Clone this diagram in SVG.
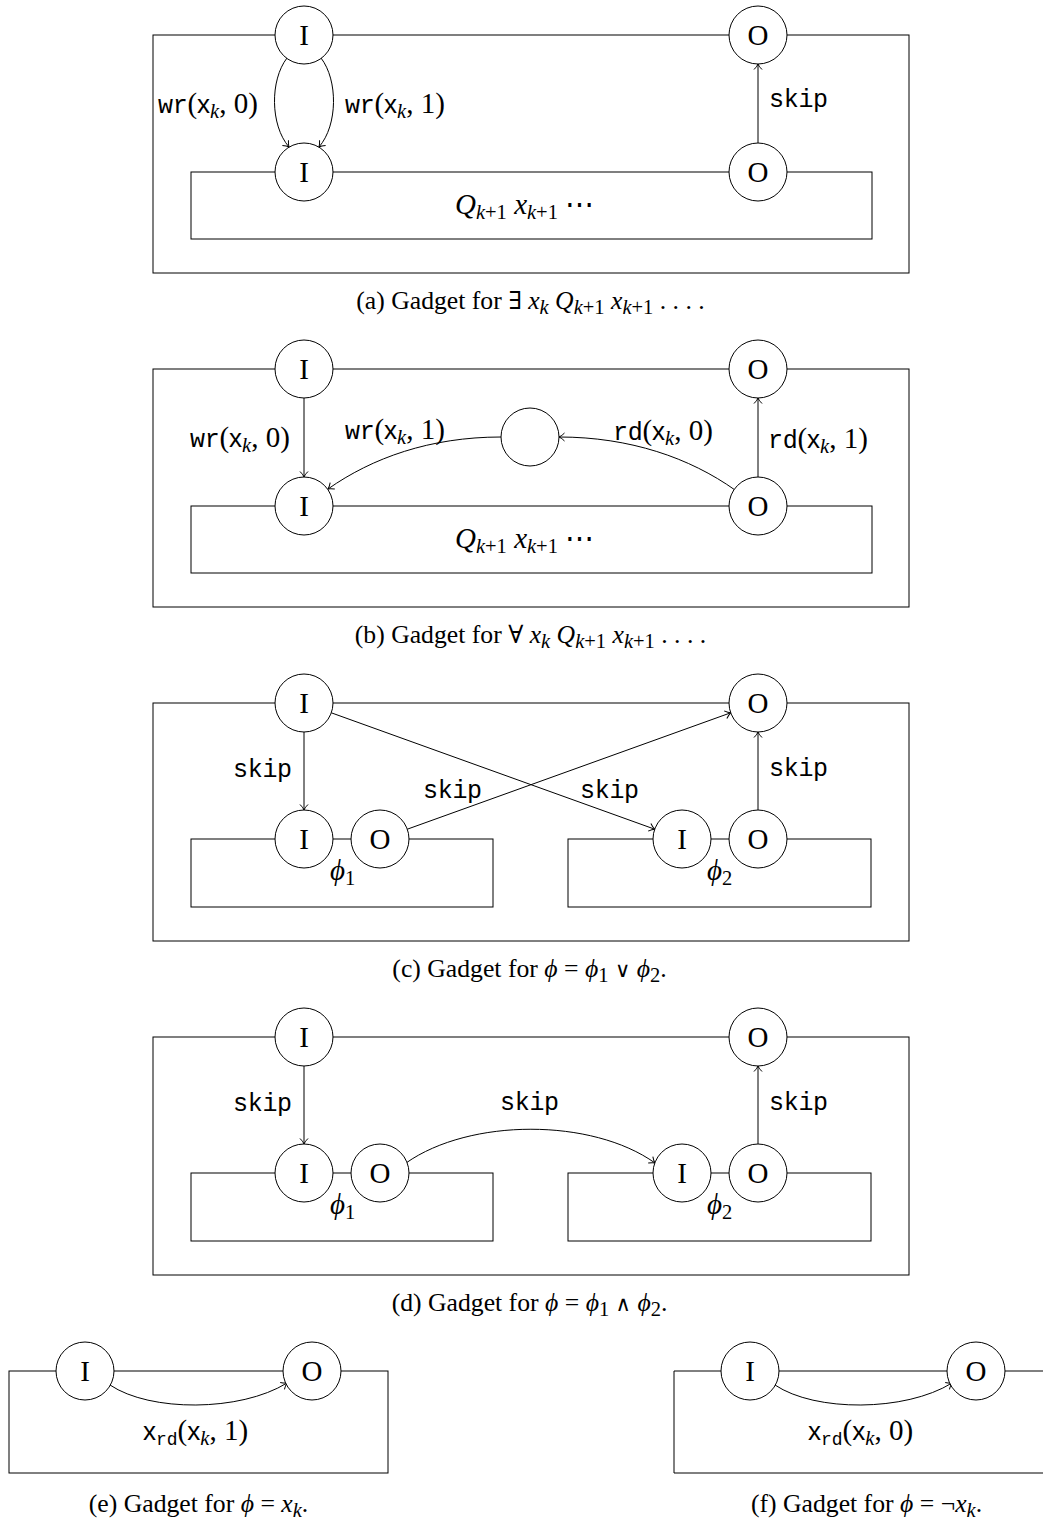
<svg xmlns="http://www.w3.org/2000/svg" width="1043" height="1521" viewBox="0 0 1043 1521">
<defs>
<style>
.box{fill:none;stroke:#000;stroke-width:1}
.nd{fill:#fff;stroke:#000;stroke-width:1}
.e{fill:none;stroke:#000;stroke-width:1;marker-end:url(#ah)}
text{font-family:"Liberation Serif","Times New Roman",serif;font-size:29px;fill:#000}
.c{text-anchor:middle}
.tt{font-family:"Liberation Mono","Courier New",monospace;font-size:25px;letter-spacing:-0.3px}
.sf{font-family:"Liberation Sans",Arial,sans-serif;font-size:26px}
.it{font-style:italic}
.sub{font-size:20.5px}
.stt{font-family:"Liberation Mono","Courier New",monospace;font-size:18px}
.cap{font-size:25.7px}
.sym{font-family:"DejaVu Serif",serif;font-size:21px}
.q{font-family:"DejaVu Serif",serif;font-size:25px}
</style>
<marker id="ah" markerUnits="userSpaceOnUse" markerWidth="14" markerHeight="14" viewBox="-7 -7 14 14" refX="0" refY="0" orient="auto">
<path d="M-5.5,-4 C-3,-1.6 -1.2,-0.5 0,0 C-1.2,0.5 -3,1.6 -5.5,4" fill="none" stroke="#000" stroke-width="1"/>
</marker>
</defs>

<!-- boxes -->
<g id="boxes">
<rect class="box" x="153" y="35" width="756" height="238"/>
<rect class="box" x="191" y="172" width="681" height="67"/>
<rect class="box" x="153" y="369" width="756" height="238"/>
<rect class="box" x="191" y="506" width="681" height="67"/>
<rect class="box" x="153" y="703" width="756" height="238"/>
<rect class="box" x="191" y="839" width="302" height="68"/>
<rect class="box" x="568" y="839" width="303" height="68"/>
<rect class="box" x="153" y="1037" width="756" height="238"/>
<rect class="box" x="191" y="1173" width="302" height="68"/>
<rect class="box" x="568" y="1173" width="303" height="68"/>
<rect class="box" x="9" y="1371" width="379" height="102"/>
<path class="box" d="M1043,1371 H674 V1473 H1043"/>
</g>

<!-- connectors -->
<g id="connectors">
<path class="e" d="M287,58 C270,80 270,125 289,147"/>
<path class="e" d="M321,58 C338,80 338,125 319,147"/>
<path class="e" d="M758,143 V64"/>
<path class="e" d="M304,398 V477"/>
<path class="e" d="M501,437 C430,437 372,458 328,489"/>
<path class="e" d="M735,490 C690,458 630,437 559,437"/>
<path class="e" d="M758,477 V398"/>
<path class="e" d="M304,732 V810"/>
<path class="e" d="M331.3,712.8 L654.7,829.2"/>
<path class="e" d="M407.3,829.2 L730.7,712.8"/>
<path class="e" d="M758,810 V732"/>
<path class="e" d="M304,1066 V1144"/>
<path class="e" d="M406,1163 C470,1118 592,1118 655,1163"/>
<path class="e" d="M758,1144 V1066"/>
<path class="e" d="M110,1385 C150,1412 240,1412 287,1383"/>
<path class="e" d="M775,1385 C815,1412 905,1412 952,1383"/>
</g>

<!-- panel a nodes -->
<g id="a-I-top"><circle class="nd" cx="304" cy="35" r="29"/><text class="c" x="304" y="45">I</text></g>
<g id="a-O-top"><circle class="nd" cx="758" cy="35" r="29"/><text class="c" x="758" y="45">O</text></g>
<g id="a-I-in"><circle class="nd" cx="304" cy="172" r="29"/><text class="c" x="304" y="182">I</text></g>
<g id="a-O-in"><circle class="nd" cx="758" cy="172" r="29"/><text class="c" x="758" y="182">O</text></g>

<!-- panel b nodes -->
<g id="b-I-top"><circle class="nd" cx="304" cy="369" r="29"/><text class="c" x="304" y="379">I</text></g>
<g id="b-O-top"><circle class="nd" cx="758" cy="369" r="29"/><text class="c" x="758" y="379">O</text></g>
<g id="b-mid"><circle class="nd" cx="530" cy="437" r="29"/></g>
<g id="b-I-in"><circle class="nd" cx="304" cy="506" r="29"/><text class="c" x="304" y="516">I</text></g>
<g id="b-O-in"><circle class="nd" cx="758" cy="506" r="29"/><text class="c" x="758" y="516">O</text></g>

<!-- panel c nodes -->
<g id="c-I-top"><circle class="nd" cx="304" cy="703" r="29"/><text class="c" x="304" y="713">I</text></g>
<g id="c-O-top"><circle class="nd" cx="758" cy="703" r="29"/><text class="c" x="758" y="713">O</text></g>
<g id="c-I1"><circle class="nd" cx="304" cy="839" r="29"/><text class="c" x="304" y="849">I</text></g>
<g id="c-O1"><circle class="nd" cx="380" cy="839" r="29"/><text class="c" x="380" y="849">O</text></g>
<g id="c-I2"><circle class="nd" cx="682" cy="839" r="29"/><text class="c" x="682" y="849">I</text></g>
<g id="c-O2"><circle class="nd" cx="758" cy="839" r="29"/><text class="c" x="758" y="849">O</text></g>

<!-- panel d nodes -->
<g id="d-I-top"><circle class="nd" cx="304" cy="1037" r="29"/><text class="c" x="304" y="1047">I</text></g>
<g id="d-O-top"><circle class="nd" cx="758" cy="1037" r="29"/><text class="c" x="758" y="1047">O</text></g>
<g id="d-I1"><circle class="nd" cx="304" cy="1173" r="29"/><text class="c" x="304" y="1183">I</text></g>
<g id="d-O1"><circle class="nd" cx="380" cy="1173" r="29"/><text class="c" x="380" y="1183">O</text></g>
<g id="d-I2"><circle class="nd" cx="682" cy="1173" r="29"/><text class="c" x="682" y="1183">I</text></g>
<g id="d-O2"><circle class="nd" cx="758" cy="1173" r="29"/><text class="c" x="758" y="1183">O</text></g>

<!-- panel e, f nodes -->
<g id="e-I"><circle class="nd" cx="85" cy="1371" r="29"/><text class="c" x="85" y="1381">I</text></g>
<g id="e-O"><circle class="nd" cx="312" cy="1371" r="29"/><text class="c" x="312" y="1381">O</text></g>
<g id="f-I"><circle class="nd" cx="750" cy="1371" r="29"/><text class="c" x="750" y="1381">I</text></g>
<g id="f-O"><circle class="nd" cx="976" cy="1371" r="29"/><text class="c" x="976" y="1381">O</text></g>

<!-- labels -->
<g id="labels">
<text x="158" y="113"><tspan class="tt">wr</tspan>(<tspan class="sf">x</tspan><tspan class="it sub" dy="5">k</tspan><tspan dy="-5">, 0)</tspan></text>
<text x="345" y="113"><tspan class="tt">wr</tspan>(<tspan class="sf">x</tspan><tspan class="it sub" dy="5">k</tspan><tspan dy="-5">, 1)</tspan></text>
<text class="tt" x="769" y="107">skip</text>
<text x="455" y="214"><tspan class="it">Q</tspan><tspan class="sub" dy="5"><tspan class="it">k</tspan>+1</tspan><tspan dy="-5"> </tspan><tspan class="it">x</tspan><tspan class="sub" dy="5"><tspan class="it">k</tspan>+1</tspan><tspan dy="-5"> ⋯</tspan></text>

<text x="190" y="447"><tspan class="tt">wr</tspan>(<tspan class="sf">x</tspan><tspan class="it sub" dy="5">k</tspan><tspan dy="-5">, 0)</tspan></text>
<text x="345" y="439"><tspan class="tt">wr</tspan>(<tspan class="sf">x</tspan><tspan class="it sub" dy="5">k</tspan><tspan dy="-5">, 1)</tspan></text>
<text x="613" y="440"><tspan class="tt">rd</tspan>(<tspan class="sf">x</tspan><tspan class="it sub" dy="5">k</tspan><tspan dy="-5">, 0)</tspan></text>
<text x="768" y="448"><tspan class="tt">rd</tspan>(<tspan class="sf">x</tspan><tspan class="it sub" dy="5">k</tspan><tspan dy="-5">, 1)</tspan></text>
<text x="455" y="548"><tspan class="it">Q</tspan><tspan class="sub" dy="5"><tspan class="it">k</tspan>+1</tspan><tspan dy="-5"> </tspan><tspan class="it">x</tspan><tspan class="sub" dy="5"><tspan class="it">k</tspan>+1</tspan><tspan dy="-5"> ⋯</tspan></text>

<text class="tt" x="233" y="777">skip</text>
<text class="tt" x="423" y="798">skip</text>
<text class="tt" x="580" y="798">skip</text>
<text class="tt" x="769" y="776">skip</text>
<text x="330" y="880"><tspan class="it">ϕ</tspan><tspan class="sub" dy="5">1</tspan></text>
<text x="707" y="880"><tspan class="it">ϕ</tspan><tspan class="sub" dy="5">2</tspan></text>

<text class="tt" x="233" y="1111">skip</text>
<text class="tt" x="500" y="1110">skip</text>
<text class="tt" x="769" y="1110">skip</text>
<text x="330" y="1214"><tspan class="it">ϕ</tspan><tspan class="sub" dy="5">1</tspan></text>
<text x="707" y="1214"><tspan class="it">ϕ</tspan><tspan class="sub" dy="5">2</tspan></text>

<text x="143" y="1440"><tspan class="sf">x</tspan><tspan class="stt" dy="5">rd</tspan><tspan dy="-5">(</tspan><tspan class="sf">x</tspan><tspan class="it sub" dy="5">k</tspan><tspan dy="-5">, 1)</tspan></text>
<text x="808" y="1440"><tspan class="sf">x</tspan><tspan class="stt" dy="5">rd</tspan><tspan dy="-5">(</tspan><tspan class="sf">x</tspan><tspan class="it sub" dy="5">k</tspan><tspan dy="-5">, 0)</tspan></text>
</g>

<!-- captions -->
<g id="captions">
<text class="cap c" x="530.5" y="309">(a) Gadget for <tspan class="q">∃</tspan> <tspan class="it">x</tspan><tspan class="sub" dy="5"><tspan class="it">k</tspan></tspan><tspan dy="-5"> </tspan><tspan class="it">Q</tspan><tspan class="sub" dy="5"><tspan class="it">k</tspan>+1</tspan><tspan dy="-5"> </tspan><tspan class="it">x</tspan><tspan class="sub" dy="5"><tspan class="it">k</tspan>+1</tspan><tspan dy="-5"> . . . .</tspan></text>
<text class="cap c" x="530.5" y="643">(b) Gadget for <tspan class="q">∀</tspan> <tspan class="it">x</tspan><tspan class="sub" dy="5"><tspan class="it">k</tspan></tspan><tspan dy="-5"> </tspan><tspan class="it">Q</tspan><tspan class="sub" dy="5"><tspan class="it">k</tspan>+1</tspan><tspan dy="-5"> </tspan><tspan class="it">x</tspan><tspan class="sub" dy="5"><tspan class="it">k</tspan>+1</tspan><tspan dy="-5"> . . . .</tspan></text>
<text class="cap c" x="529.5" y="977">(c) Gadget for <tspan class="it">ϕ</tspan> = <tspan class="it">ϕ</tspan><tspan class="sub" dy="5">1</tspan><tspan dy="-5"> </tspan><tspan class="sym">∨</tspan> <tspan class="it">ϕ</tspan><tspan class="sub" dy="5">2</tspan><tspan dy="-5">.</tspan></text>
<text class="cap c" x="529.5" y="1311">(d) Gadget for <tspan class="it">ϕ</tspan> = <tspan class="it">ϕ</tspan><tspan class="sub" dy="5">1</tspan><tspan dy="-5"> </tspan><tspan class="sym">∧</tspan> <tspan class="it">ϕ</tspan><tspan class="sub" dy="5">2</tspan><tspan dy="-5">.</tspan></text>
<text class="cap c" x="198.5" y="1512">(e) Gadget for <tspan class="it">ϕ</tspan> = <tspan class="it">x</tspan><tspan class="sub" dy="5"><tspan class="it">k</tspan></tspan><tspan dy="-5">.</tspan></text>
<text class="cap c" x="866.5" y="1512">(f) Gadget for <tspan class="it">ϕ</tspan> = ¬<tspan class="it">x</tspan><tspan class="sub" dy="5"><tspan class="it">k</tspan></tspan><tspan dy="-5">.</tspan></text>
</g>
</svg>
